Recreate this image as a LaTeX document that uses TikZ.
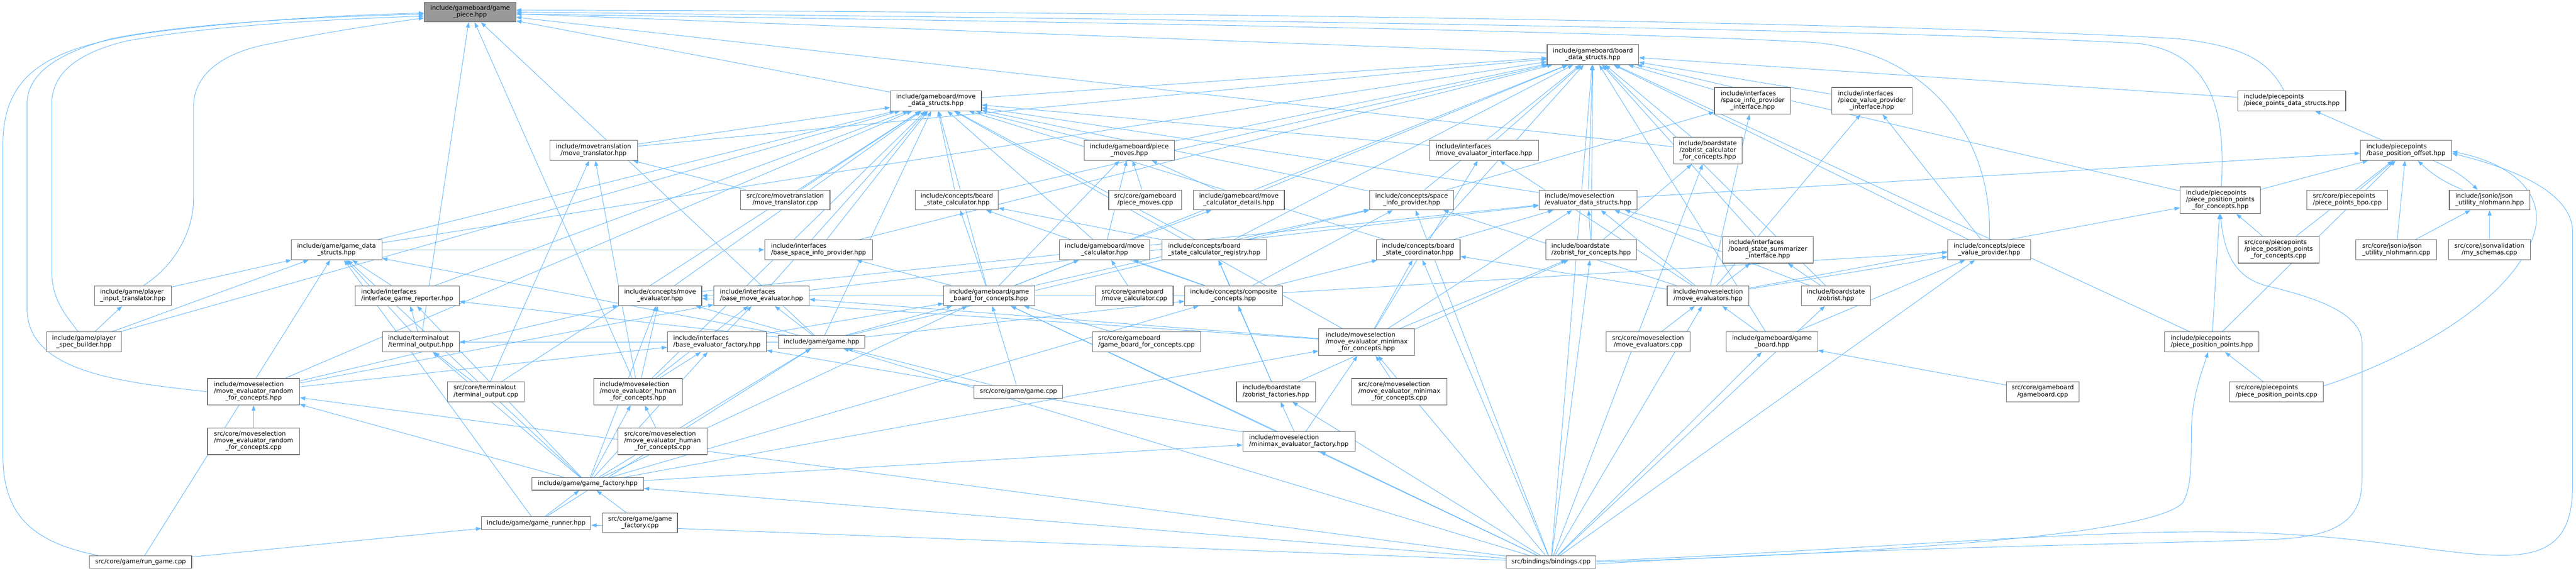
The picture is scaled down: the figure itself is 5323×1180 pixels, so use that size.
\documentclass[tikz,border=0pt]{standalone}
\usepackage{fontspec}
\setmainfont{DejaVu Sans}
\usetikzlibrary{arrows.meta}
\definecolor{edgeblue}{HTML}{63B8FF}
\definecolor{boxdraw}{HTML}{666666}
\definecolor{rootfill}{HTML}{999999}
\newcommand\lb[2]{\begin{tabular}{@{}c@{}}\multicolumn{1}{@{}l@{}}{#1}\\#2\end{tabular}}
\newcommand\nd[7][]{\node[bx,#1,minimum width=0.5pt*#5,minimum height=0.5pt*#6] (#2) at (#3,#4) {#7};}
\pgfdeclarelayer{bg}
\pgfsetlayers{bg,main}
\begin{document}
\begin{tikzpicture}[x=0.5pt,y=-0.5pt,
  bx/.style={draw=boxdraw, fill=white, line width=0.6pt, inner sep=0pt, font=\fontsize{6.4}{6.9}\selectfont},
  root/.style={fill=rootfill},
  dep/.style={draw=edgeblue, line width=0.5pt, -{Triangle[length=5.5pt,width=4pt]}}]
\useasboundingbox (0,0) rectangle (5323,1180);
% row 1-3
\nd[root]{gp}{971.5}{25}{189}{41}{\lb{include/gameboard/game}{\_piece.hpp}}
\nd{bds}{3291.5}{113}{189}{41}{\lb{include/gameboard/board}{\_data\_structs.hpp}}
\nd{mds}{1934}{208.5}{188}{41}{\lb{include/gameboard/move}{\_data\_structs.hpp}}
\nd{sipi}{3621.5}{208.5}{157}{55}{\lb{include/interfaces}{/space\_info\_provider\\\_interface.hpp}}
\nd{pvpi}{3868}{208.5}{166}{55}{\lb{include/interfaces}{/piece\_value\_provider\\\_interface.hpp}}
\nd{ppds}{4735.5}{208.5}{223}{41}{\lb{include/piecepoints}{/piece\_points\_data\_structs.hpp}}
\nd{mth}{1226.5}{311}{181}{41}{\lb{include/movetranslation}{/move\_translator.hpp}}
\nd{pmh}{2333.5}{311}{187}{41}{\lb{include/gameboard/piece}{\_moves.hpp}}
\nd{mei}{3066.5}{311}{225}{41}{\lb{include/interfaces}{/move\_evaluator\_interface.hpp}}
\nd{zcfc}{3529}{311.5}{142}{55}{\lb{include/boardstate}{/zobrist\_calculator\\\_for\_concepts.hpp}}
\nd{bpo}{4971.5}{311}{189}{41}{\lb{include/piecepoints}{/base\_position\_offset.hpp}}
% row 4
\nd{mtc}{1622.5}{413.5}{185}{41}{\lb{src/core/movetranslation}{/move\_translator.cpp}}
\nd{bsc}{1977}{413.5}{172}{41}{\lb{include/concepts/board}{\_state\_calculator.hpp}}
\nd{pmc}{2366.5}{413.5}{151}{41}{\lb{src/core/gameboard}{/piece\_moves.cpp}}
\nd{mcd}{2560}{413.5}{188}{41}{\lb{include/gameboard/move}{\_calculator\_details.hpp}}
\nd{sip}{2917}{413.5}{174}{41}{\lb{include/concepts/space}{\_info\_provider.hpp}}
\nd{eds}{3281.5}{413.5}{203}{41}{\lb{include/moveselection}{/evaluator\_data\_structs.hpp}}
\nd{pppc}{4588}{414}{166}{55}{\lb{include/piecepoints}{/piece\_position\_points\\\_for\_concepts.hpp}}
\nd{ppbpo}{4850.5}{413.5}{167}{41}{\lb{src/core/piecepoints}{/piece\_points\_bpo.cpp}}
\nd{jsonh}{5144.5}{413.5}{167}{41}{\lb{include/jsonio/json}{\_utility\_nlohmann.hpp}}
% row 5
\nd{gds}{695.5}{516.5}{187}{41}{\lb{include/game/game\_data}{\_structs.hpp}}
\nd{bsip}{1691.5}{516.5}{223}{41}{\lb{include/interfaces}{/base\_space\_info\_provider.hpp}}
\nd{mch}{2282.5}{516.5}{187}{41}{\lb{include/gameboard/move}{\_calculator.hpp}}
\nd{bscr}{2509}{516.5}{216}{41}{\lb{include/concepts/board}{\_state\_calculator\_registry.hpp}}
\nd{bsco}{2930.5}{516.5}{173}{41}{\lb{include/concepts/board}{\_state\_coordinator.hpp}}
\nd{zfc}{3288}{516.5}{188}{41}{\lb{include/boardstate}{/zobrist\_for\_concepts.hpp}}
\nd{bssi}{3653}{516.5}{188}{55}{\lb{include/interfaces}{/board\_state\_summarizer\\\_interface.hpp}}
\nd{pvp}{4110.5}{516.5}{171}{41}{\lb{include/concepts/piece}{\_value\_provider.hpp}}
\nd{pppcc}{4708.5}{516.5}{167}{55}{\lb{src/core/piecepoints}{/piece\_position\_points\\\_for\_concepts.cpp}}
\nd{jsonc}{4951.5}{516.5}{167}{41}{\lb{src/core/jsonio/json}{\_utility\_nlohmann.cpp}}
\nd{schemas}{5144}{516.5}{170}{41}{\lb{src/core/jsonvalidation}{/my\_schemas.cpp}}
% row 6
\nd{pit}{274.5}{611.5}{159}{41}{\lb{include/game/player}{\_input\_translator.hpp}}
\nd{igr}{841.5}{611.5}{215}{41}{\lb{include/interfaces}{/interface\_game\_reporter.hpp}}
\nd{cme}{1364}{611.5}{172}{41}{\lb{include/concepts/move}{\_evaluator.hpp}}
\nd{bme}{1573.5}{611.5}{197}{41}{\lb{include/interfaces}{/base\_move\_evaluator.hpp}}
\nd{gbfc}{2044}{611.5}{188}{41}{\lb{include/gameboard/game}{\_board\_for\_concepts.hpp}}
\nd{mcc}{2344}{611.5}{160}{41}{\lb{src/core/gameboard}{/move\_calculator.cpp}}
\nd{cc}{2549}{611.5}{202}{41}{\lb{include/concepts/composite}{\_concepts.hpp}}
\nd{mevs}{3529.5}{611.5}{169}{41}{\lb{include/moveselection}{/move\_evaluators.hpp}}
\nd{zh}{3793.5}{611.5}{143}{41}{\lb{include/boardstate}{/zobrist.hpp}}
% row 7
\nd{psb}{173.5}{707}{155}{41}{\lb{include/game/player}{\_spec\_builder.hpp}}
\nd{toh}{869.5}{707}{159}{41}{\lb{include/terminalout}{/terminal\_output.hpp}}
\nd{bef}{1481.5}{707}{205}{41}{\lb{include/interfaces}{/base\_evaluator\_factory.hpp}}
\nd{gh}{1697.5}{707}{179}{26}{include/game/game.hpp}
\nd{gbfcc}{2369}{707}{224}{41}{\lb{src/core/gameboard}{/game\_board\_for\_concepts.cpp}}
\nd{mmh}{2824}{707.5}{198}{55}{\lb{include/moveselection}{/move\_evaluator\_minimax\\\_for\_concepts.hpp}}
\nd{mevc}{3405.5}{707}{173}{41}{\lb{src/core/moveselection}{/move\_evaluators.cpp}}
\nd{gbh}{3661.5}{707}{189}{41}{\lb{include/gameboard/game}{\_board.hpp}}
\nd{pph}{4570.5}{707}{195}{41}{\lb{include/piecepoints}{/piece\_position\_points.hpp}}
% row 8
\nd{mrh}{524}{810}{190}{55}{\lb{include/moveselection}{/move\_evaluator\_random\\\_for\_concepts.hpp}}
\nd{toc}{1004}{810}{158}{41}{\lb{src/core/terminalout}{/terminal\_output.cpp}}
\nd{mhh}{1318.5}{810}{183}{55}{\lb{include/moveselection}{/move\_evaluator\_human\\\_for\_concepts.hpp}}
\nd{gc}{2104.5}{810}{183}{26}{src/core/game/game.cpp}
\nd{zf}{2636.5}{810}{163}{41}{\lb{include/boardstate}{/zobrist\_factories.hpp}}
\nd{mmc}{2891.5}{810}{197}{55}{\lb{src/core/moveselection}{/move\_evaluator\_minimax\\\_for\_concepts.cpp}}
\nd{gbc}{4221}{810}{150}{41}{\lb{src/core/gameboard}{/gameboard.cpp}}
\nd{ppc}{4704}{810}{194}{41}{\lb{src/core/piecepoints}{/piece\_position\_points.cpp}}
% row 9-12
\nd{mrc}{524}{912.5}{190}{55}{\lb{src/core/moveselection}{/move\_evaluator\_random\\\_for\_concepts.cpp}}
\nd{mhc}{1369}{912.5}{184}{55}{\lb{src/core/moveselection}{/move\_evaluator\_human\\\_for\_concepts.cpp}}
\nd{mef}{2684}{913}{232}{41}{\lb{include/moveselection}{/minimax\_evaluator\_factory.hpp}}
\nd{gfh}{1214.5}{1000.5}{231}{26}{include/game/game\_factory.hpp}
\nd{grh}{1108}{1081.5}{226}{26}{include/game/game\_runner.hpp}
\nd{gfc}{1322.5}{1081}{155}{41}{\lb{src/core/game/game}{\_factory.cpp}}
\nd{rg}{290.5}{1162}{211}{26}{src/core/game/run\_game.cpp}
\nd{bind}{3205}{1162}{186}{26}{src/bindings/bindings.cpp}

\begin{pgfonlayer}{bg}
\foreach \src/\tgt in {bds/gp, mds/gp, zcfc/gp, toh/gp, mhh/gp, gh/gp,
 mds/bds, sipi/bds, pvpi/bds, ppds/bds, mth/bds, pmh/bds, zcfc/bds, bsc/bds, mcd/bds, sip/bds, eds/bds, pppc/bds, gds/bds, bscr/bds, bsco/bds, zfc/bds, pvp/bds, gbfc/bds, zh/bds, gbh/bds, bind/bds, pph/bds, mei/bds, bssi/bds, bsip/bds}
  \draw[dep] (\src) -- (\tgt);
\foreach \src/\tgt in {mth/mds, pmh/mds, mei/mds, bsc/mds, sip/mds, eds/mds, gds/mds, mch/mds, bscr/mds, bsco/mds, gbfc/mds, bme/mds, cme/mds, mhh/mds, mrh/mds, gh/mds, mtc/mds, bsip/mds, igr/mds, mmh/mds, psb/mds, toc/mds,
 bpo/ppds, eds/bpo, pppc/bpo, ppbpo/bpo, pppcc/bpo, jsonc/bpo, pph/bpo, jsonc/jsonh, schemas/jsonh,
 pppcc/pppc, pph/pppc, mevs/pppc, ppc/pph}
  \draw[dep] (\src) -- (\tgt);
\foreach \src/\tgt in {mtc/mth, toc/mth, mhh/mth, pmc/pmh, mcd/pmh, mch/pmh, gbfc/pmh, mch/mcd, gbfc/mch, mcc/mch, cc/mch,
 bscr/bsc, gbfc/bsc, cc/bsc, cc/bscr, zf/bscr, cc/sip, gbfc/sip, mevs/sip, bind/sip, gh/sip, mevs/sipi, sip/sipi,
 bsco/eds, zfc/eds, bssi/eds, zh/eds, mevs/eds, mmh/eds, bme/eds, cme/eds, zfc/zcfc, bind/zcfc, zf/zfc, bind/zfc, mmh/zfc,
 cc/bsco, mmh/bsco, mevs/bsco, bind/bsco, mevs/bssi, zh/bssi, mevs/pvp, gbh/pvp, bind/pvp, cc/pvp, mevs/pvpi, pvp/pvpi, mevs/mei, mmh/mei}
  \draw[dep] (\src) -- (\tgt);
\foreach \src/\tgt in {pit/gds, psb/gds, rg/gds, gfh/gds, toh/gds, igr/gds, gh/gds, grh/gds, gds/bsip, gbfc/bsip, psb/pit,
 toh/igr, gh/igr, gfh/igr, toc/toh, gfh/toh, gh/toh, gh/cme, gfh/cme, mmh/cme, mhh/cme, mrh/cme, cc/cme,
 mrh/bme, mhh/bme, bef/bme, gh/bme, mmh/bme, mhh/bef, gfh/bef, mef/bef, mrh/bef, gc/gh, gfh/gh, grh/gh, bind/gh,
 gc/gbfc, gbfcc/gbfc, gfh/gbfc, gh/gbfc, bef/gbfc, bind/gbfc, mef/gbfc, zf/cc, gh/cc, gfh/cc,
 gfh/mmh, mef/mmh, mmc/mmh, bind/mmh, mef/zf, bind/zf, mevc/mevs, bind/mevs, gbh/mevs, bind/zh, gbc/gbh, bind/gbh,
 mrc/mrh, gfh/mrh, bind/mrh, mhc/mhh, gfh/mhh, grh/gfh, gfc/gfh, bind/gfh, rg/grh, bind/grh, gfh/mef, bind/mef}
  \draw[dep] (\src) -- (\tgt);
% curved connectors
\draw[dep] ([xshift=-44pt]rg.north) .. controls (60,1120) and (6,1060) .. (6,940) -- (6,300)
  .. controls (6,150) and (100,95) .. (330,65) .. controls (550,38) and (750,30) .. ([yshift=-1pt]gp.west);
\draw[dep] (mrh.west) .. controls (250,790) and (58,770) .. (56,640) -- (56,210)
  .. controls (60,150) and (120,110) .. (230,80) .. controls (400,45) and (700,34) .. ([yshift=-2pt]gp.west);
\draw[dep] ([xshift=-6pt]psb.north) .. controls (135,650) and (107,620) .. (107,560) -- (107,210)
  .. controls (110,150) and (160,110) .. (260,85) .. controls (450,50) and (700,40) .. ([yshift=-4pt]gp.west);
\draw[dep] ([xshift=11pt]pit.north) .. controls (360,550) and (400,480) .. (400,410) -- (400,220)
  .. controls (400,160) and (450,110) .. (560,90) .. controls (680,65) and (800,48) .. ([yshift=-6pt]gp.west);
\draw[dep] ([xshift=-8pt]ppds.north) .. controls (4690,130) and (4640,95) .. (4500,80)
  .. controls (3800,40) and (2000,22) .. ([yshift=2pt]gp.east);
\draw[dep] ([xshift=1pt]pppc.north) .. controls (4600,230) and (4570,110) .. (4420,90)
  .. controls (3800,55) and (2000,35) .. (gp.east);
\draw[dep] (pvp.north) .. controls (4120,300) and (4000,110) .. (3750,88)
  .. controls (3300,62) and (2000,42) .. ([yshift=-2pt]gp.east);
\draw[dep] ([yshift=1pt]bind.east) .. controls (3800,1140) and (4300,1095) .. (4600,1100)
  .. controls (4900,1105) and (5050,1150) .. (5180,1148) .. controls (5290,1146) and (5316,1090) .. (5316,1000)
  -- (5316,480) .. controls (5316,400) and (5200,350) .. ([yshift=-3pt]bpo.east);
\draw[dep] ([yshift=6pt]ppc.east) .. controls (4950,750) and (5170,640) .. (5230,500)
  .. controls (5270,410) and (5200,340) .. ([yshift=-1pt]bpo.east);
\draw[dep] ([yshift=-2pt]bind.east) .. controls (3900,1130) and (4450,1125) .. (4700,1115)
  .. controls (4850,1110) and (4881,1060) .. (4881,990) -- (4881,710)
  .. controls (4881,640) and (4760,610) .. (4680,590) .. controls (4610,570) and (4595,510) .. (pppc.south);
\draw[dep] (bind.east) .. controls (4000,1140) and (4450,1100) .. (4510,1040)
  .. controls (4528,1010) and (4528,960) .. (4528,900) .. controls (4528,820) and (4550,770) .. ([xshift=-4pt]pph.south);
\draw[dep] (jsonh) to[bend left=10] (bpo);
\draw[dep] (bpo) to[bend left=10] (jsonh);
\end{pgfonlayer}
\end{tikzpicture}
\end{document}
